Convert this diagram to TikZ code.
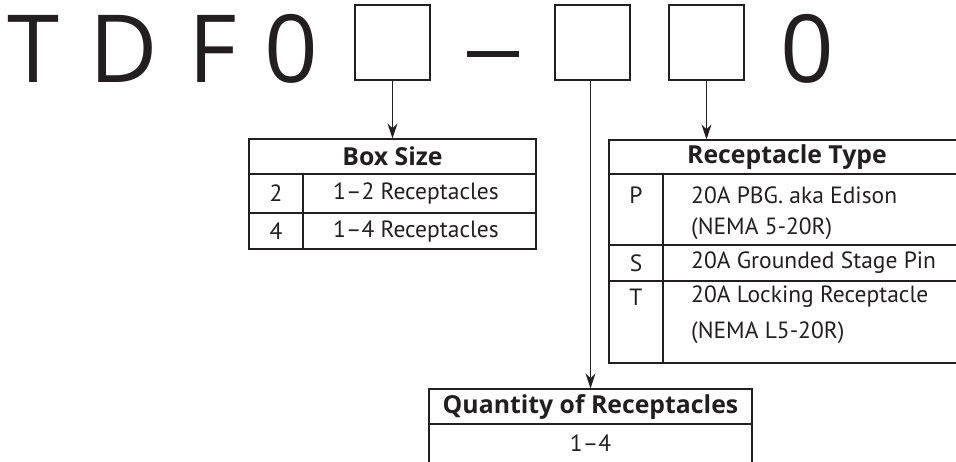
\documentclass[tikz,border=0pt]{standalone}
\usepackage{fontspec}
\setmainfont{PT Sans}
\newfontfamily\bigfont{Open Sans}
\usetikzlibrary{arrows.meta}
\definecolor{ink}{HTML}{231F20}
\tikzset{
  big/.style={font=\bigfont\fontsize{94}{94}\selectfont,inner sep=0pt,anchor=base,text=ink},
  slot/.style={draw=ink,line width=2.2pt,minimum width=75pt,minimum height=75pt,inner sep=0pt},
  head/.style={draw=ink,line width=1.3pt,inner sep=0pt,text=ink,
    font=\bigfont\fontsize{24.8}{28}\selectfont\bfseries},
  cell/.style={inner sep=0pt,text=ink,font=\fontsize{23.5}{27}\selectfont},
  rule/.style={draw=ink,line width=1.3pt},
  feed/.style={-{Stealth[length=15pt,width=10pt]},draw=ink,line width=1pt}
}
\begin{document}
\begin{tikzpicture}[x=1pt,y=-1pt]
  \useasboundingbox (0,0) rectangle (956,461);
  \clip (0,0) rectangle (956,461);
  % part number
  \node[big] (T) at (34,82) {T};
  \node[big] (D) at (124,82) {D};
  \node[big] (F) at (213,82) {F};
  \node[big] (Z1) at (291,82) {0};
  \node[slot] (s1) at (392.5,42.5) {};
  \node[inner sep=0pt,text=ink] (dash) at (493,54) {\rule{52pt}{6pt}};
  \node[slot] (s2) at (592.5,42.5) {};
  \node[slot] (s3) at (706.5,42.5) {};
  \node[big] (Z2) at (807,82) {0};
  % box size
  \node[head,minimum width=287pt,minimum height=35pt] (sizehd) at (392.5,156.5) {Box Size};
  \path[rule] (249,174) rectangle (536,249) (249,213) -- (536,213) (303,174) -- (303,249);
  \node[cell] (b2) at (276,193) {2};
  \node[cell] (b2t) at (416,193) {1–2 Receptacles};
  \node[cell] (b4) at (276,231) {4};
  \node[cell] (b4t) at (416,231) {1–4 Receptacles};
  % receptacle type
  \node[head,minimum width=356pt,minimum height=34pt] (typehd) at (787,157) {Receptacle Type};
  \path[rule] (609,174) rectangle (965,363) (609,245) -- (965,245) (609,281) -- (965,281)
    (663,174) -- (663,363);
  \node[cell] (rp) at (636,195) {P};
  \node[cell,anchor=west] (rpt) at (691,195) {20A PBG. aka Edison};
  \node[cell,anchor=west] (rpn) at (691,229) {(NEMA 5-20R)};
  \node[cell] (rs) at (636,263) {S};
  \node[cell,anchor=west] (rst) at (691,263) {20A Grounded Stage Pin};
  \node[cell] (rt) at (636,297) {T};
  \node[cell,anchor=west] (rtt) at (691,297) {20A Locking Receptacle};
  \node[cell,anchor=west] (rtn) at (691,333) {(NEMA L5-20R)};
  % quantity
  \node[head,minimum width=323pt,minimum height=35pt] (qtyhd) at (590.5,406.5) {Quantity of Receptacles};
  \path[rule] (429,424) -- (429,475) (752,424) -- (752,475);
  \node[cell] (q) at (590.5,443) {1–4};
  \draw[feed] (s1.south) -- (sizehd.north);
  \draw[feed] (qtyhd.north |- s2.south) -- (qtyhd.north);
  \draw[feed] (s3.south) -- (typehd.north -| s3.south);
\end{tikzpicture}
\end{document}
